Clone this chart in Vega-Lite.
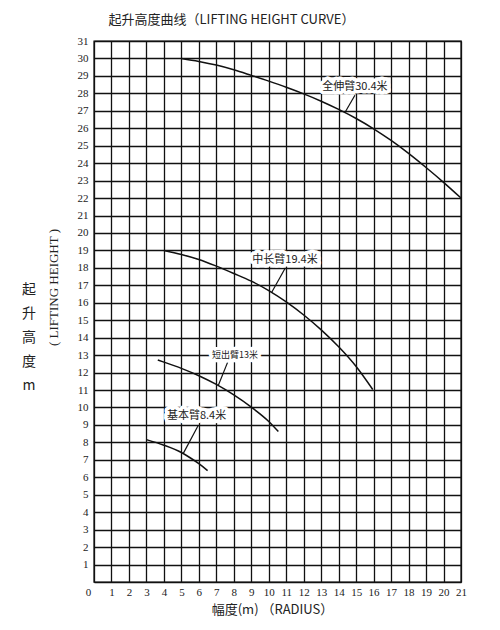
{
  "$schema": "https://vega.github.io/schema/vega-lite/v6.json",
  "width": 367,
  "height": 541,
  "autosize": {"type": "none"},
  "padding": {"left": 94, "top": 41, "right": 39, "bottom": 48},
  "background": "white",
  "title": {
    "text": "起升高度曲线（LIFTING  HEIGHT  CURVE）",
    "font": "Noto Sans CJK SC",
    "fontSize": 13,
    "fontWeight": "normal",
    "color": "#222",
    "anchor": "middle",
    "dx": -46,
    "offset": 8
  },
  "config": {
    "view": {"stroke": "#111", "strokeWidth": 1.4},
    "axis": {
      "labelFont": "Liberation Serif",
      "labelFontSize": 11,
      "labelColor": "#222",
      "labelFlush": false,
      "ticks": false,
      "domain": false,
      "grid": true,
      "gridColor": "#111",
      "gridOpacity": 1,
      "gridWidth": 1.3,
      "labelOverlap": false,
      "titleFont": "Noto Sans CJK SC",
      "titleFontWeight": "normal",
      "titleColor": "#222"
    }
  },
  "datasets": {
    "curves": [
      {"arm": "全伸臂30.4米", "x": 5, "y": 30.0},
      {"arm": "全伸臂30.4米", "x": 6, "y": 29.83},
      {"arm": "全伸臂30.4米", "x": 7, "y": 29.62},
      {"arm": "全伸臂30.4米", "x": 8, "y": 29.35},
      {"arm": "全伸臂30.4米", "x": 9, "y": 29.03},
      {"arm": "全伸臂30.4米", "x": 10, "y": 28.7},
      {"arm": "全伸臂30.4米", "x": 11, "y": 28.35},
      {"arm": "全伸臂30.4米", "x": 12, "y": 27.97},
      {"arm": "全伸臂30.4米", "x": 13, "y": 27.55},
      {"arm": "全伸臂30.4米", "x": 14, "y": 27.08},
      {"arm": "全伸臂30.4米", "x": 15, "y": 26.56},
      {"arm": "全伸臂30.4米", "x": 16, "y": 25.97},
      {"arm": "全伸臂30.4米", "x": 17, "y": 25.3},
      {"arm": "全伸臂30.4米", "x": 18, "y": 24.56},
      {"arm": "全伸臂30.4米", "x": 19, "y": 23.75},
      {"arm": "全伸臂30.4米", "x": 20, "y": 22.9},
      {"arm": "全伸臂30.4米", "x": 21, "y": 22.0},
      {"arm": "中长臂19.4米", "x": 4, "y": 19.0},
      {"arm": "中长臂19.4米", "x": 5, "y": 18.77},
      {"arm": "中长臂19.4米", "x": 6, "y": 18.48},
      {"arm": "中长臂19.4米", "x": 7, "y": 18.1},
      {"arm": "中长臂19.4米", "x": 8, "y": 17.68},
      {"arm": "中长臂19.4米", "x": 9, "y": 17.24},
      {"arm": "中长臂19.4米", "x": 10, "y": 16.7},
      {"arm": "中长臂19.4米", "x": 11, "y": 16.05},
      {"arm": "中长臂19.4米", "x": 12, "y": 15.3},
      {"arm": "中长臂19.4米", "x": 13, "y": 14.45},
      {"arm": "中长臂19.4米", "x": 14, "y": 13.48},
      {"arm": "中长臂19.4米", "x": 15, "y": 12.35},
      {"arm": "中长臂19.4米", "x": 15.95, "y": 11.03},
      {"arm": "短出臂13米", "x": 3.65, "y": 12.72},
      {"arm": "短出臂13米", "x": 4, "y": 12.6},
      {"arm": "短出臂13米", "x": 5, "y": 12.24},
      {"arm": "短出臂13米", "x": 6, "y": 11.82},
      {"arm": "短出臂13米", "x": 7, "y": 11.32},
      {"arm": "短出臂13米", "x": 8, "y": 10.72},
      {"arm": "短出臂13米", "x": 9, "y": 10.02},
      {"arm": "短出臂13米", "x": 10, "y": 9.2},
      {"arm": "短出臂13米", "x": 10.55, "y": 8.62},
      {"arm": "基本臂8.4米", "x": 3, "y": 8.16},
      {"arm": "基本臂8.4米", "x": 4, "y": 7.84},
      {"arm": "基本臂8.4米", "x": 5, "y": 7.42},
      {"arm": "基本臂8.4米", "x": 5.5, "y": 7.12},
      {"arm": "基本臂8.4米", "x": 6, "y": 6.78},
      {"arm": "基本臂8.4米", "x": 6.5, "y": 6.38}
    ],
    "leaders": [
      {"arm": "全伸臂30.4米", "x": 14.93, "y": 27.89, "x2": 14.36, "y2": 26.9},
      {"arm": "中长臂19.4米", "x": 10.93, "y": 17.96, "x2": 10.17, "y2": 16.6},
      {"arm": "短出臂13米", "x": 7.69, "y": 12.7, "x2": 7.11, "y2": 11.26},
      {"arm": "基本臂8.4米", "x": 5.97, "y": 8.98, "x2": 5.11, "y2": 7.37}
    ],
    "labels": [
      {"label": "全伸臂30.4米", "x": 14.93, "y": 28.37},
      {"label": "中长臂19.4米", "x": 10.93, "y": 18.43},
      {"label": "短出臂13米", "x": 8.07, "y": 12.99},
      {"label": "基本臂8.4米", "x": 5.87, "y": 9.5}
    ],
    "side": [
      {"label": "起\n升\n高\n度\nm", "x": -3.72, "y": 16.75}
    ]
  },
  "encoding": {
    "x": {
      "field": "x",
      "type": "quantitative",
      "scale": {"domain": [0, 21], "nice": false, "zero": false},
      "axis": {
        "values": [0,1,2,3,4,5,6,7,8,9,10,11,12,13,14,15,16,17,18,19,20,21],
        "labelPadding": 4,
        "labelOffset": {"condition": {"test": "datum.value == 0", "value": -6}, "value": 0},
        "title": "幅度(m)  （RADIUS）",
        "titleFontSize": 13,
        "titlePadding": 6,
        "titleX": 178
      }
    },
    "y": {
      "field": "y",
      "type": "quantitative",
      "scale": {"domain": [0, 31], "nice": false, "zero": false},
      "axis": {
        "values": [0,1,2,3,4,5,6,7,8,9,10,11,12,13,14,15,16,17,18,19,20,21,22,23,24,25,26,27,28,29,30,31],
        "labelExpr": "datum.value == 0 ? '' : datum.label",
        "labelPadding": 6,
        "title": "( LIFTING  HEIGHT )",
        "titleFont": "Liberation Serif",
        "titleFontSize": 13,
        "titleX": -41,
        "titleY": 246,
        "titleAngle": -90,
        "titleBaseline": "middle",
        "titleAlign": "center"
      }
    }
  },
  "layer": [
    {
      "data": {"name": "curves"},
      "mark": {"type": "line", "color": "#111", "strokeWidth": 1.5, "interpolate": "monotone"},
      "encoding": {
        "detail": {"field": "arm", "type": "nominal"}
      }
    },
    {
      "data": {"name": "leaders"},
      "mark": {"type": "rule", "color": "#111", "strokeWidth": 1.2},
      "encoding": {
        "x2": {"field": "x2"},
        "y2": {"field": "y2"}
      }
    },
    {
      "data": {"name": "labels"},
      "mark": {"type": "text", "font": "Noto Sans CJK SC", "color": "white", "stroke": "white", "strokeWidth": 7, "strokeJoin": "round", "baseline": "middle", "align": "center"},
      "encoding": {
        "text": {"field": "label"},
        "size": {"condition": {"test": "datum.label === '短出臂13米'", "value": 9}, "value": 11}
      }
    },
    {
      "data": {"name": "labels"},
      "mark": {"type": "text", "font": "Noto Sans CJK SC", "color": "#222", "baseline": "middle", "align": "center"},
      "encoding": {
        "text": {"field": "label"},
        "size": {"condition": {"test": "datum.label === '短出臂13米'", "value": 9}, "value": 11}
      }
    },
    {
      "data": {"name": "side"},
      "mark": {"type": "text", "font": "Noto Sans CJK SC", "fontSize": 14, "lineHeight": 24, "lineBreak": "\n", "color": "#222", "baseline": "middle", "align": "center"},
      "encoding": {
        "text": {"field": "label"}
      }
    }
  ]
}
